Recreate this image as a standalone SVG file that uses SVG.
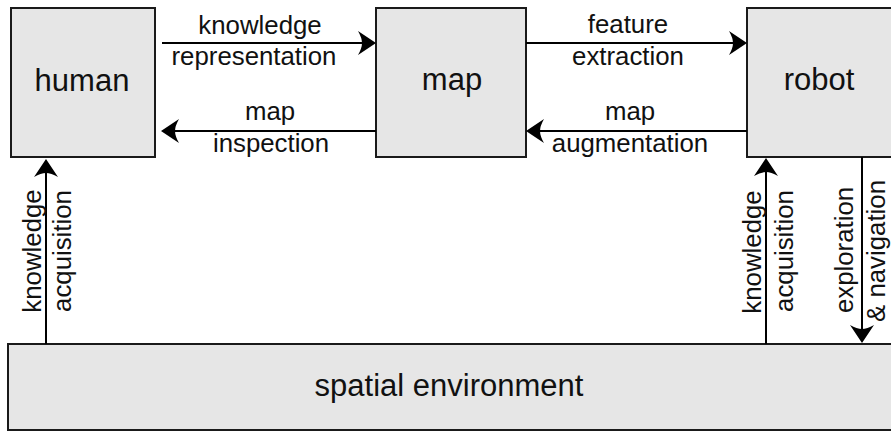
<svg xmlns="http://www.w3.org/2000/svg" width="891" height="432" viewBox="0 0 891 432">
<style>
.box{fill:#e6e6e6;stroke:#1a1a1a;stroke-width:2}
.lbl{font-family:"Liberation Sans",Arial,sans-serif;font-size:31px;fill:#111;text-anchor:middle}
.elbl{font-family:"Liberation Sans",Arial,sans-serif;font-size:25.8px;fill:#111;text-anchor:middle}
.conn{stroke:#000;stroke-width:2;fill:none;marker-end:url(#arr)}
</style>
<defs>
<marker id="arr" markerUnits="userSpaceOnUse" viewBox="-8 -14 22 28" refX="0" refY="0" markerWidth="22" markerHeight="28" orient="auto">
<path d="M12,0 L-6,-12 Q-2,-5 -2,0 Q-2,5 -6,12 Z" fill="#000"/>
</marker>
</defs>
<g id="human"><rect class="box" x="11" y="8" width="144" height="149"/><text class="lbl" x="82" y="91">human</text></g>
<g id="map"><rect class="box" x="376" y="8" width="150" height="149"/><text class="lbl" x="452" y="90">map</text></g>
<g id="robot"><rect class="box" x="747" y="8" width="160" height="149"/><text class="lbl" x="819" y="90">robot</text></g>
<g id="environment"><rect class="box" x="8" y="344" width="900" height="86"/><text class="lbl" x="449" y="396">spatial environment</text></g>
<g id="connectors">
<line class="conn" x1="162" y1="43" x2="364" y2="43"/>
<line class="conn" x1="376" y1="131" x2="173" y2="131"/>
<line class="conn" x1="526" y1="43" x2="735" y2="43"/>
<line class="conn" x1="747" y1="131" x2="538" y2="131"/>
<line class="conn" x1="46" y1="344" x2="46" y2="171"/>
<line class="conn" x1="766" y1="344" x2="766" y2="170"/>
<line class="conn" x1="862" y1="157" x2="862" y2="331"/>
<text class="elbl" x="260" y="34">knowledge</text>
<text class="elbl" x="254" y="65">representation</text>
<text class="elbl" x="270" y="120">map</text>
<text class="elbl" x="271" y="152">inspection</text>
<text class="elbl" x="628" y="33">feature</text>
<text class="elbl" x="628" y="65">extraction</text>
<text class="elbl" x="630" y="120">map</text>
<text class="elbl" x="630" y="152">augmentation</text>
<text class="elbl" transform="translate(41,251) rotate(-90)">knowledge</text>
<text class="elbl" transform="translate(71,251) rotate(-90)">acquisition</text>
<text class="elbl" transform="translate(761,252) rotate(-90)">knowledge</text>
<text class="elbl" transform="translate(793,251) rotate(-90)">acquisition</text>
<text class="elbl" transform="translate(853,250) rotate(-90)">exploration</text>
<text class="elbl" transform="translate(885,251) rotate(-90)">&amp; navigation</text>
</g>
</svg>
